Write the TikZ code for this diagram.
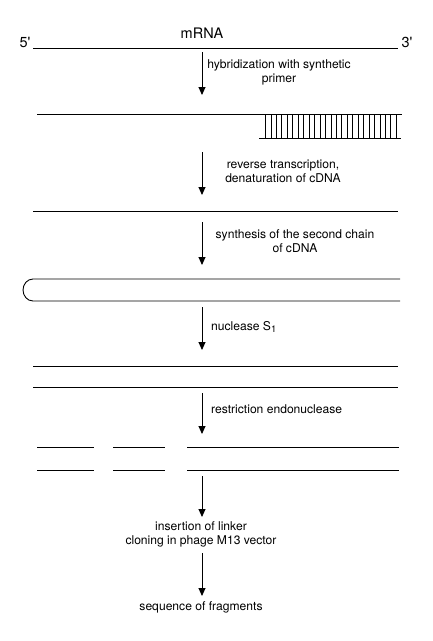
\documentclass[tikz,border=0pt]{standalone}
\usepackage{fontspec}
\setmainfont{TeX Gyre Heros}
\usetikzlibrary{arrows.meta}
\begin{document}
\begin{tikzpicture}[x=1pt,y=-1pt,
  strand/.style={line width=0.9pt},
  tick/.style={line width=0.8pt},
  step arrow/.style={line width=0.9pt,-{Triangle[width=7pt,length=8pt]}},
  lbl/.style={font=\fontsize{12.1}{14.5}\selectfont,inner sep=0pt,align=center},
  big/.style={font=\fontsize{14.5}{16}\selectfont,inner sep=0pt}]
\useasboundingbox (0,0) rectangle (432,641);
% mRNA
\node[big] (mrna) at (202,33) {mRNA};
\node[big] (five) at (25,42) {5\textquotesingle};
\node[big] (three) at (407,42) {3\textquotesingle};
\coordinate (m1) at (33,48);
\coordinate (m2) at (398,48);
\draw[strand] (m1) -- (m2);
% arrow 1
\coordinate (a1s) at (202,52);
\coordinate (a1e) at (202,95);
\draw[step arrow] (a1s) -- (a1e);
\node[lbl] (l1) at (279,72.5) {hybridization with synthetic\\primer};
% hybrid
\coordinate (h1) at (37,114);
\coordinate (h2) at (402,114);
\coordinate (p1) at (259,138);
\coordinate (p2) at (401,138);
\draw[strand] (h1) -- (h2);
\draw[strand] (p1) -- (p2);
\foreach \i in {0,...,24} {
  \draw[tick] ({265.5+\i*5.45},114) -- ({265.5+\i*5.45},138);
}
% arrow 2
\coordinate (a2s) at (202,152);
\coordinate (a2e) at (202,195);
\draw[step arrow] (a2s) -- (a2e);
\node[lbl] (l2) at (283,171.5) {reverse transcription,\\denaturation of cDNA};
% cDNA single
\coordinate (c1) at (33,211);
\coordinate (c2) at (398,211);
\draw[strand] (c1) -- (c2);
% arrow 3
\coordinate (a3s) at (202,222);
\coordinate (a3e) at (202,265);
\draw[step arrow] (a3s) -- (a3e);
\node[lbl] (l3) at (295,241) {synthesis of the second chain\\of cDNA};
% hairpin
\coordinate (hp1) at (400,279);
\coordinate (hp2) at (400,301);
\draw[strand] (hp1) -- (33,279) arc[start angle=270,end angle=90,x radius=10,y radius=11] -- (hp2);
% arrow 4
\coordinate (a4s) at (202,307);
\coordinate (a4e) at (202,350);
\draw[step arrow] (a4s) -- (a4e);
\node[lbl,anchor=west] (l4) at (211,327) {nuclease S\raisebox{-0.45ex}{\fontsize{9.5}{9.5}\selectfont 1}};
% duplex
\coordinate (d1) at (33,366);
\coordinate (d2) at (398,366);
\coordinate (d3) at (33,387);
\coordinate (d4) at (398,387);
\draw[strand] (d1) -- (d2);
\draw[strand] (d3) -- (d4);
% arrow 5
\coordinate (a5s) at (202,393);
\coordinate (a5e) at (202,434);
\draw[step arrow] (a5s) -- (a5e);
\node[lbl,anchor=west] (l5) at (211,409) {restriction endonuclease};
% fragments
\foreach \y in {447,470} {
  \draw[strand] (37,\y) -- (94,\y);
  \draw[strand] (113,\y) -- (165,\y);
  \draw[strand] (187,\y) -- (399,\y);
}
% arrow 6
\coordinate (a6s) at (202,476);
\coordinate (a6e) at (202,517);
\draw[step arrow] (a6s) -- (a6e);
\node[lbl] (l6) at (201,534.5) {insertion of linker\\cloning in phage M13 vector};
% arrow 7
\coordinate (a7s) at (202,553);
\coordinate (a7e) at (202,596);
\draw[step arrow] (a7s) -- (a7e);
\node[lbl] (l7) at (201,607) {sequence of fragments};
\end{tikzpicture}
\end{document}
